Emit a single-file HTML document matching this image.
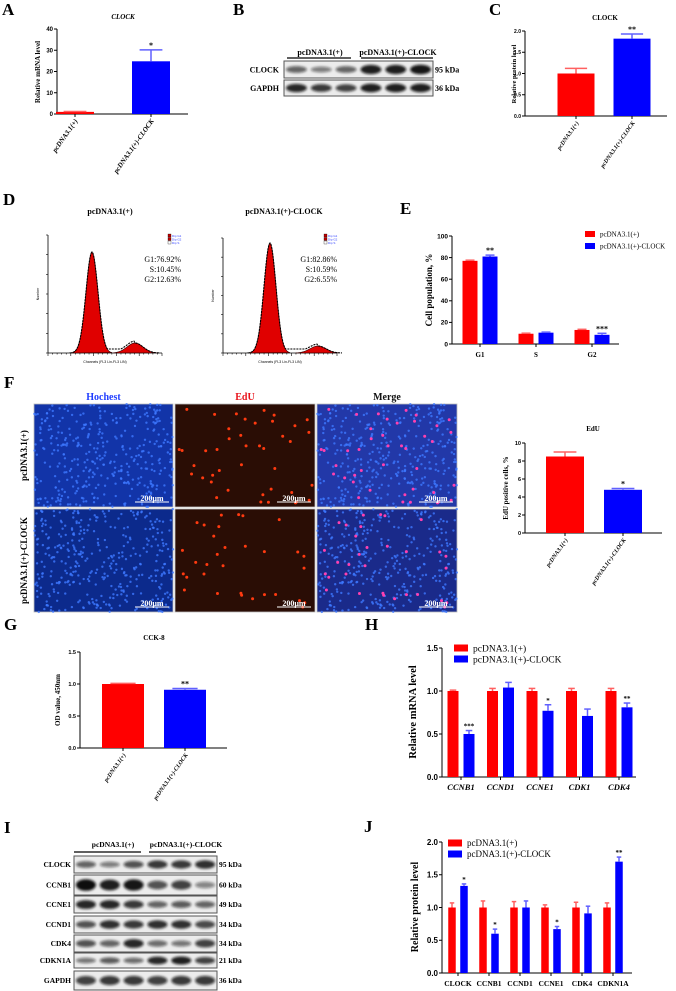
<!DOCTYPE html>
<html><head><meta charset="utf-8">
<style>
html,body{margin:0;padding:0;background:#fff;}
svg{display:block;}
text{font-family:"Liberation Serif",serif;}
.sans{font-family:"Liberation Sans",sans-serif;}
</style></head>
<body>
<svg id="fig" width="676" height="991" viewBox="0 0 676 991" xmlns="http://www.w3.org/2000/svg">
<defs>
<filter id="blur1" x="-30%" y="-80%" width="160%" height="260%"><feGaussianBlur stdDeviation="1.4"/></filter>
</defs>
</svg>
<script>
// ---------- data ----------
const aCats=['pcDNA3.1(+)','pcDNA3.1(+)-CLOCK'];
const aVals=[1.0,24.8];
const aErr=[1.2,30.2];
const aStars=['','*'];
const aTicks=[0,10,20,30,40];

const cVals=[1.0,1.82];
const cErr=[1.12,1.93];
const cStars=['','**'];
const cTicks=[0,0.5,1.0,1.5,2.0];
const cTickLabels=['0.0','0.5','1.0','1.5','2.0'];

const eCats=['G1','S','G2'];
const eCtrl=[77,9.5,13];
const eCtrlErr=[77.6,10,13.6];
const eClock=[81,10.5,8.5];
const eClockErr=[82.3,11,9.9];
const eStars=['**','','***'];
const eTicks=[0,20,40,60,80,100];

const eduVals=[8.5,4.8];
const eduErr=[9.0,4.95];
const eduStars=['','*'];
const eduTicks=[0,2,4,6,8,10];

const gVals=[1.0,0.91];
const gErr=[1.01,0.93];
const gStars=['','**'];
const gTicks=[0,0.5,1.0,1.5];
const gTickLabels=['0.0','0.5','1.0','1.5'];

const hCats=['CCNB1','CCND1','CCNE1','CDK1','CDK4'];
const hCtrl=[1.0,1.0,1.0,1.0,1.0];
const hCtrlErr=[1.01,1.03,1.03,1.03,1.03];
const hClock=[0.50,1.04,0.77,0.71,0.81];
const hClockErr=[0.54,1.10,0.84,0.79,0.86];
const hStars=['***','','*','','**'];
const hTicks=[0,0.5,1.0,1.5];
const hTickLabels=['0.0','0.5','1.0','1.5'];

const jCats=['CLOCK','CCNB1','CCND1','CCNE1','CDK4','CDKN1A'];
const jCtrl=[1.0,1.0,1.0,1.0,1.0,1.0];
const jCtrlErr=[1.07,1.10,1.09,1.04,1.08,1.07];
const jClock=[1.33,0.60,1.0,0.67,0.91,1.70];
const jClockErr=[1.36,0.67,1.10,0.71,1.02,1.77];
const jStars=['*','*','','*','','**'];
const jTicks=[0,0.5,1.0,1.5,2.0];
const jTickLabels=['0.0','0.5','1.0','1.5','2.0'];

const RED='#ff0000', BLUE='#0000ff';
const NS='http://www.w3.org/2000/svg';
const svg=document.getElementById('fig');

function mk(tag, attrs, parent, txt){
  const e=document.createElementNS(NS,tag);
  for(const k in attrs) e.setAttribute(k,attrs[k]);
  if(txt!==undefined) e.textContent=txt;
  (parent||svg).appendChild(e);
  return e;
}
function grp(name){
  const g=mk('g',{});
  
  
  return g;
}
function label(t,x,y,parent){
  const e=mk('text',{x:x,y:y,'font-size':17,'font-weight':'bold'},parent,t);
  
  
}

function yAxis(g,ax,y0,y1,max,ticks,labels,fs){
  const sc=v=>y0-(v/max)*(y0-y1);
  const l=mk('line',{x1:ax,y1:y0,x2:ax,y2:y1,stroke:'#000','stroke-width':1},g);
  
  
  ticks.forEach((t,i)=>{
    const yy=sc(t);
    const tk=mk('line',{x1:ax-3,y1:yy,x2:ax,y2:yy,stroke:'#000','stroke-width':1},g);
    
    
    const tl=mk('text',{x:ax-4,y:yy+fs*0.35,'font-size':fs,'text-anchor':'end','font-weight':'bold',class:'sans'},g,labels?labels[i]:String(t));
    
    
  });
  return sc;
}
function bar(g,cx,w,v,err,sc,col,star,fsStar){
  const y0=sc(0), yv=sc(v), ye=sc(err);
  const r=mk('rect',{x:cx-w/2,y:yv,width:w,height:y0-yv,fill:col},g);
  
  
  const ecol=col===RED?'#ff6060':'#6060ff';
  const e1=mk('line',{x1:cx,y1:yv,x2:cx,y2:ye,stroke:ecol,'stroke-width':1.5},g);
  
  
  const e2=mk('line',{x1:cx-w*0.3,y1:ye,x2:cx+w*0.3,y2:ye,stroke:ecol,'stroke-width':1.5},g);
  
  
  if(star){
    const s=mk('text',{x:cx,y:ye-2,'font-size':fsStar||8,'text-anchor':'middle','font-weight':'bold'},g,star);
    
    
  }
}
function xAxis(g,x0,x1,y){
  const l=mk('line',{x1:x0,y1:y,x2:x1,y2:y,stroke:'#000','stroke-width':1},g);
  
  
}
function rotLabels(g,centers,cats,y,fs){
  centers.forEach((cx,i)=>{
    const tk=mk('line',{x1:cx,y1:y,x2:cx,y2:y+3,stroke:'#000'},g);
    
    
    const t=mk('text',{x:cx+3,y:y+7,'font-size':fs,'text-anchor':'end','font-weight':'bold','font-style':'italic',transform:`rotate(-55 ${cx+3} ${y+7})`},g,cats[i]);
    
    
  });
}
function ylab(g,t,x,y,fs){
  const e=mk('text',{x:x,y:y,'font-size':fs,'font-weight':'bold','text-anchor':'middle',transform:`rotate(-90 ${x} ${y})`},g,t);
  
  
}
function title(g,t,x,y,fs,italic){
  const e=mk('text',{x:x,y:y,'font-size':fs,'font-weight':'bold','text-anchor':'middle','font-style':italic?'italic':'normal'},g,t);
  
  
}
function legend(g,x,y,gap,fs,bw,bh){
  [[RED,'pcDNA3.1(+)'],[BLUE,'pcDNA3.1(+)-CLOCK']].forEach((p,i)=>{
    const r=mk('rect',{x:x,y:y+i*gap-bh/2,width:bw,height:bh,fill:p[0]},g);
    
    
    const t=mk('text',{x:x+bw+5,y:y+i*gap+fs*0.35,'font-size':fs},g,p[1]);
    
    
  });
}

// ---------- Panel A ----------
label('A',2,15);
(function(){
  const g=grp('panel-a-chart');
  title(g,'CLOCK',123,19,7,true);
  const sc=yAxis(g,57,114,29,40,aTicks,null,6);
  xAxis(g,57,188,114);
  const cs=[75,151];
  aVals.forEach((v,i)=>bar(g,cs[i],38,v,aErr[i],sc,i?BLUE:RED,aStars[i],8));
  rotLabels(g,cs,aCats,114,7);
  ylab(g,'Relative mRNA level',40,72,7);
})();

// ---------- Panel B blot ----------
label('B',233,15);
function blot(g,x0,x1,rows,hdrY,lineY,lblX,kdaX,fsRow,c1,c2,l1,l2){
  const h1=mk('text',{x:c1,y:hdrY,'font-size':fsRow,'font-weight':'bold','text-anchor':'middle'},g,'pcDNA3.1(+)');
  
  
  const h2=mk('text',{x:c2,y:hdrY,'font-size':fsRow,'font-weight':'bold','text-anchor':'middle'},g,'pcDNA3.1(+)-CLOCK');
  
  
  [l1,l2].forEach(l=>{
    const ln=mk('line',{x1:l[0],y1:lineY,x2:l[1],y2:lineY,stroke:'#000','stroke-width':1.3},g);
    
    
  });
  rows.forEach(r=>{
    const [name,kda,ya,yb,ints]=r;
    const box=mk('rect',{x:x0,y:ya,width:x1-x0,height:yb-ya,fill:'#ececec',stroke:'#555','stroke-width':1},g);
    
    
    const lw=(x1-x0)/6;
    ints.forEach((it,k)=>{
      const cx=x0+lw*(k+0.5), cy=(ya+yb)/2;
      const b=mk('ellipse',{cx:cx,cy:cy,rx:lw*0.42,ry:(yb-ya)*0.18*(0.6+it),fill:'#111','fill-opacity':Math.min(1,0.25+it*0.75),filter:'url(#blur1)'},g);
      
      
    });
    const t=mk('text',{x:lblX,y:(ya+yb)/2+fsRow*0.35,'font-size':fsRow,'font-weight':'bold','text-anchor':'end'},g,name);
    
    
    const k2=mk('text',{x:kdaX,y:(ya+yb)/2+fsRow*0.35,'font-size':fsRow,'font-weight':'bold'},g,kda);
    
    
  });
}
(function(){
  const g=grp('panel-b-western-blot');
  blot(g,284,433,[
    ['CLOCK','95 kDa',61,78,[0.5,0.35,0.5,0.9,0.9,0.95]],
    ['GAPDH','36 kDa',80,96,[0.85,0.75,0.7,0.9,0.9,0.9]]
  ],55,58,279,435,8,320,398,[287,351],[361,433]);
})();

// ---------- Panel C ----------
label('C',489,15);
(function(){
  const g=grp('panel-c-chart');
  title(g,'CLOCK',605,20,7,false);
  const sc=yAxis(g,525,116,31,2.0,cTicks,cTickLabels,5);
  xAxis(g,525,667,116);
  const cs=[576,632];
  cVals.forEach((v,i)=>bar(g,cs[i],37,v,cErr[i],sc,i?BLUE:RED,cStars[i],8));
  rotLabels(g,cs,aCats,116,6);
  ylab(g,'Relative protein level',516,74,6.5);
})();

// ---------- Panel D flow ----------
label('D',3,205);
const dG1=[76.92,82.86];
const dS=[10.45,10.59];
const dG2=[12.63,6.55];
function flow(g,ax,y0,y1,xEnd,peakX,peakTop,humpX,humpTop,txtX,idx,titleX,titleTxt){
  title(g,titleTxt,titleX,214,8,false);
  const a=mk('line',{x1:ax,y1:y0,x2:ax,y2:y1,stroke:'#000','stroke-width':0.8},g);
  
  
  const b=mk('line',{x1:ax,y1:y0,x2:xEnd,y2:y0,stroke:'#000','stroke-width':0.8},g);
  
  
  for(let i=0;i<=6;i++){
    const t=mk('line',{x1:ax-2,y1:y0-i*(y0-y1)/6,x2:ax,y2:y0-i*(y0-y1)/6,stroke:'#000','stroke-width':0.6},g);
    
    
  }
  for(let i=0;i<=25;i++){
    const xx=ax+i*(xEnd-ax)/25;
    const t=mk('line',{x1:xx,y1:y0,x2:xx,y2:y0+(i%5?1.5:3),stroke:'#000','stroke-width':0.6},g);
    
    
  }
  const s1=6, s2=8;
  const A1=y0-peakTop, A2=y0-humpTop;
  const f1=x=>A1*Math.exp(-((x-peakX)**2)/(2*s1*s1));
  const f2=x=>A2*Math.exp(-((x-humpX)**2)/(2*s2*s2));
  const fs=x=>(x>peakX&&x<humpX)?4:0;
  let p1=`M${peakX-20},${y0}`, p2=`M${humpX-22},${y0}`, po=`M${peakX-22},${y0}`;
  for(let x=peakX-20;x<=peakX+20;x+=1) p1+=` L${x},${y0-f1(x)}`;
  p1+=' Z';
  for(let x=humpX-22;x<=humpX+22;x+=1) p2+=` L${x},${y0-f2(x)}`;
  p2+=' Z';
  for(let x=peakX-22;x<=humpX+24;x+=1) po+=` L${x},${y0-Math.max(f1(x),f2(x)+fs(x)*0.5,fs(x))}`;
  const r1=mk('path',{d:p1,fill:'#e00000',stroke:'#300','stroke-width':0.6},g);
  
  
  const r2=mk('path',{d:p2,fill:'#e00000',stroke:'#300','stroke-width':0.6},g);
  
  
  const o=mk('path',{d:po,fill:'none',stroke:'#000','stroke-width':1.1,'stroke-dasharray':'2 1'},g);
  
  
  const lines=['G1:'+dG1[idx].toFixed(2)+'%','S:'+dS[idx].toFixed(2)+'%','G2:'+dG2[idx].toFixed(2)+'%'];
  lines.forEach((t,i)=>{
    const e=mk('text',{x:txtX,y:262+i*10,'font-size':8,'text-anchor':'end'},g,t);
    
    
  });
  [['#c00000','Dip G1'],['#c00000','Dip G2'],['#fff','Dip S']].forEach((p,i)=>{
    const r=mk('rect',{x:txtX-13,y:234+i*3.5,width:3,height:3,fill:p[0],stroke:'#000','stroke-width':0.3},g);
    
    
    const t=mk('text',{x:txtX-9,y:237+i*3.5,'font-size':3,fill:'#3040ff',class:'sans'},g,p[1]);
    
    
  });
  const xl=mk('text',{x:(ax+xEnd)/2,y:y0+10,'font-size':3.5,'text-anchor':'middle',class:'sans'},g,'Channels (FL3 Lin-FL3 LIN)');
  
  
  const yl=mk('text',{x:ax-9,y:(y0+y1)/2,'font-size':3.5,'text-anchor':'middle',class:'sans',transform:`rotate(-90 ${ax-9} ${(y0+y1)/2})`},g,'Number');
  
  
}
(function(){
  flow(grp('panel-d-flow-control'),48,353,235,162,92,252,135,343,181,0,110,'pcDNA3.1(+)');
  flow(grp('panel-d-flow-clock'),223,353,238,337,270,243,318,346,337,1,284,'pcDNA3.1(+)-CLOCK');
})();

// ---------- Panel E ----------
label('E',400,214);
(function(){
  const g=grp('panel-e-chart');
  const sc=yAxis(g,452,344,236,100,eTicks,null,6.5);
  xAxis(g,452,619,344);
  const cs=[480,536,592];
  eCats.forEach((c,i)=>{
    bar(g,cs[i]-10,15,eCtrl[i],eCtrlErr[i],sc,RED,'',8);
    bar(g,cs[i]+10,15,eClock[i],eClockErr[i],sc,BLUE,eStars[i],8);
    const tk=mk('line',{x1:cs[i],y1:344,x2:cs[i],y2:347,stroke:'#000'},g);
    
    
    const t=mk('text',{x:cs[i],y:357,'font-size':7,'font-weight':'bold','text-anchor':'middle'},g,c);
    
    
  });
  ylab(g,'Cell population, %',432,290,9);
  legend(g,585,234,12,7,10,6);
})();

// ---------- Panel F images ----------
label('F',4,388);
function rng(seed){let s=seed;return ()=>{s=(s*1103515245+12345)&0x7fffffff;return s/0x7fffffff;};}
(function(){
  const g=grp('panel-f-images');
  const cols=[[34,173,'Hochest','#1e3cff'],[175,315,'EdU','#e8131b'],[317,457,'Merge','#111']];
  cols.forEach(c=>{
    const t=mk('text',{x:(c[0]+c[1])/2,y:400,'font-size':10,'font-weight':'bold','text-anchor':'middle',fill:c[3]},g,c[2]);
    
    
  });
  const rows=[[404,507,'pcDNA3.1(+)'],[509,612,'pcDNA3.1(+)-CLOCK']];
  rows.forEach((r,ri)=>{
    const cy=(r[0]+r[1])/2;
    const t=mk('text',{x:27,y:cy,'font-size':9,'font-weight':'bold','text-anchor':'middle',transform:`rotate(-90 27 ${cy})`},g,r[2]);
    
    
    cols.forEach((c,ci)=>{
      const w=c[1]-c[0], h=r[1]-r[0];
      const bg=[ri?'#0c2a8c':'#1234a8','#2a0d05',ri?'#1a2a8a':'#2238a8'][ci];
      const im=mk('rect',{x:c[0],y:r[0],width:w,height:h,fill:bg,stroke:'#bbb','stroke-width':0.8},g);
      
      
      const R=rng(17+ri*31);
      if(ci!==1){
        for(let k=0;k<380;k++){
          const d=mk('circle',{cx:c[0]+R()*w,cy:r[0]+R()*h,r:1.2,fill:'#3d78ff','fill-opacity':0.8},g);
          
          
        }
      }
      if(ci!==0){
        const R2=rng(99+ri*7);
        const n=ri?32:42;
        for(let k=0;k<n;k++){
          const d=mk('circle',{cx:c[0]+3+R2()*(w-6),cy:r[0]+3+R2()*(h-6),r:1.5,fill:ci===1?'#ff3a10':'#ff40b0'},g);
          
          
        }
      }
      const sb=mk('line',{x1:c[1]-38,y1:r[1]-5,x2:c[1]-4,y2:r[1]-5,stroke:'#fff','stroke-width':1},g);
      
      
      const st=mk('text',{x:c[1]-21,y:r[1]-6,'font-size':8,'font-weight':'bold','text-anchor':'middle',fill:'#fff'},g,'200μm');
      
      
    });
  });
})();
(function(){
  const g=grp('panel-f-edu-chart');
  title(g,'EdU',593,431,7,false);
  const sc=yAxis(g,525,533,443,10,eduTicks,null,5.5);
  xAxis(g,525,662,533);
  const cs=[565,623];
  eduVals.forEach((v,i)=>bar(g,cs[i],38,v,eduErr[i],sc,i?BLUE:RED,eduStars[i],8));
  rotLabels(g,cs,aCats,533,6);
  ylab(g,'EdU positive cells, %',508,488,7);
})();

// ---------- Panel G ----------
label('G',4,630);
(function(){
  const g=grp('panel-g-chart');
  title(g,'CCK-8',154,640,7,false);
  const sc=yAxis(g,80,748,652,1.5,gTicks,gTickLabels,5.5);
  xAxis(g,80,227,748);
  const cs=[123,185];
  gVals.forEach((v,i)=>bar(g,cs[i],42,v,gErr[i],sc,i?BLUE:RED,gStars[i],8));
  rotLabels(g,cs,aCats,748,6);
  ylab(g,'OD value, 450nm',60,700,7);
})();

// ---------- Panel H ----------
label('H',365,630);
(function(){
  const g=grp('panel-h-chart');
  const sc=yAxis(g,442,777,648,1.5,hTicks,hTickLabels,8);
  xAxis(g,442,636,777);
  hCats.forEach((c,i)=>{
    const cx=461+i*39.5;
    bar(g,cx-8,11,hCtrl[i],hCtrlErr[i],sc,RED,'',7);
    bar(g,cx+8,11,hClock[i],hClockErr[i],sc,BLUE,hStars[i],7);
    const tk=mk('line',{x1:cx,y1:777,x2:cx,y2:780,stroke:'#000'},g);
    
    
    const t=mk('text',{x:cx,y:790,'font-size':8.5,'font-weight':'bold','font-style':'italic','text-anchor':'middle'},g,c);
    
    
  });
  ylab(g,'Relative mRNA level',416,712,10.5);
  legend(g,454,648,11,9.5,14,7);
})();

// ---------- Panel I ----------
label('I',4,833);
(function(){
  const g=grp('panel-i-western-blot');
  blot(g,74,217,[
    ['CLOCK','95 kDa',856,873,[0.5,0.35,0.6,0.75,0.75,0.8]],
    ['CCNB1','60 kDa',875,895,[1.0,0.9,0.95,0.6,0.7,0.3]],
    ['CCNE1','49 kDa',896,913,[0.85,0.85,0.75,0.5,0.55,0.5]],
    ['CCND1','34 kDa',916,933,[0.6,0.8,0.75,0.8,0.8,0.65]],
    ['CDK4','34 kDa',935,952,[0.6,0.5,0.85,0.45,0.4,0.7]],
    ['CDKN1A','21 kDa',953,968,[0.4,0.55,0.45,0.85,0.9,0.7]],
    ['GAPDH','36 kDa',971,990,[0.7,0.75,0.75,0.7,0.75,0.75]]
  ],847,852,71,219,7.5,113,186,[74,141],[149,216]);
})();

// ---------- Panel J ----------
label('J',364,832);
(function(){
  const g=grp('panel-j-chart');
  const sc=yAxis(g,442,973,842,2.0,jTicks,jTickLabels,8);
  xAxis(g,442,632,973);
  jCats.forEach((c,i)=>{
    const cx=458+i*31;
    bar(g,cx-6,7.5,jCtrl[i],jCtrlErr[i],sc,RED,'',7);
    bar(g,cx+6,7.5,jClock[i],jClockErr[i],sc,BLUE,jStars[i],7);
    const tk=mk('line',{x1:cx,y1:973,x2:cx,y2:976,stroke:'#000'},g);
    
    
    const t=mk('text',{x:cx,y:986,'font-size':7.5,'font-weight':'bold','text-anchor':'middle'},g,c);
    
    
  });
  ylab(g,'Relative protein level',418,907,10);
  legend(g,448,843,11,9,14,7);
})();
</script>
</body></html>
